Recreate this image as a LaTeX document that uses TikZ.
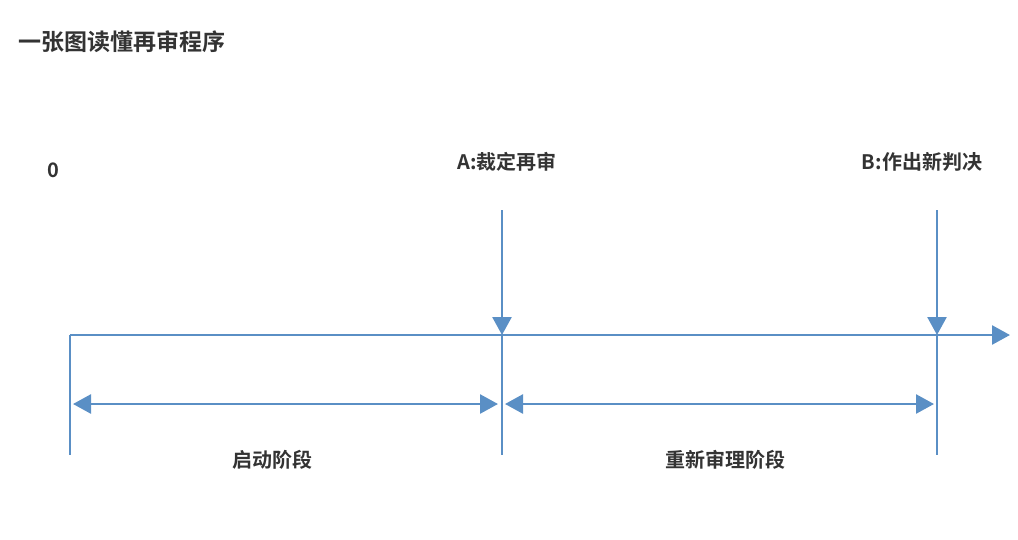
\documentclass[tikz,border=0pt]{standalone}
\usepackage{fontspec}
\newfontfamily\cjk{Noto Sans CJK SC}[BoldFont={Noto Sans CJK SC Bold}]
\usetikzlibrary{arrows.meta}
\definecolor{ln}{HTML}{5A8FC5}
\definecolor{tx}{HTML}{333333}
\tikzset{
 axis/.style={draw=ln,line width=2.6pt},
 tip/.style={-{Triangle[length=18pt,width=19pt]}},
 dtip/.style={{Triangle[length=18pt,width=19pt]}-{Triangle[length=18pt,width=19pt]}},
 lbl/.style={font=\cjk\bfseries\fontsize{20}{24}\selectfont,text=tx,inner sep=0pt},
}
\begin{document}
\begin{tikzpicture}[x=1pt,y=-1pt]
\useasboundingbox (0,0) rectangle (1018,539);
\node[lbl,anchor=west,font=\cjk\bfseries\fontsize{23}{28}\selectfont] (t) at (18,42) {一张图读懂再审程序};
\node[lbl] (z) at (53,170) {0};
\node[lbl] (la) at (507,162) {A:裁定再审};
\node[lbl] (lb) at (922,162) {B:作出新判决};
\coordinate (o) at (70,335);
\coordinate (e) at (1010,335);
\coordinate (o1) at (70,455);
\coordinate (a0) at (502,210);
\coordinate (a) at (502,335);
\coordinate (a1) at (502,455);
\coordinate (b0) at (937,210);
\coordinate (b) at (937,335);
\coordinate (b1) at (937,455);
\coordinate (s1) at (73,404);
\coordinate (s2) at (498,404);
\coordinate (r1) at (505,404);
\coordinate (r2) at (934,404);
\draw[axis,tip] (o) -- (e);
\draw[axis] (o) -- (o1);
\draw[axis] (a) -- (a1);
\draw[axis] (b) -- (b1);
\draw[axis,tip] (a0) -- (a);
\draw[axis,tip] (b0) -- (b);
\draw[axis,dtip] (s1) -- (s2);
\draw[axis,dtip] (r1) -- (r2);
\node[lbl] (p1) at (272,460) {启动阶段};
\node[lbl] (p2) at (725,460) {重新审理阶段};
\end{tikzpicture}
\end{document}
